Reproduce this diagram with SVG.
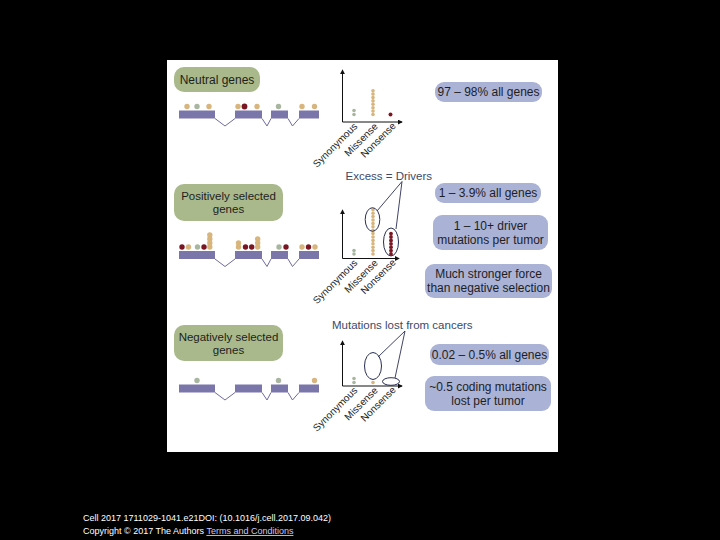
<svg xmlns="http://www.w3.org/2000/svg" width="720" height="540" viewBox="0 0 720 540">
<style>
text{font-family:"Liberation Sans",Arial,sans-serif;}
.gp{fill:#a9b98b;}
.lp{fill:#aab2d6;}
.ptc{font-size:12px;fill:#1e1e1e;text-anchor:middle;}
.ptg{font-size:11.5px;fill:#1e1e1e;text-anchor:middle;}
.ex{fill:#7b76a9;}
.in{fill:none;stroke:#6f6a9f;stroke-width:1;}
.t{fill:#d7b57c;}
.g{fill:#a9b69f;}
.r{fill:#7a1622;}
.ax{fill:none;stroke:#111;stroke-width:1;}
.lab{font-size:10px;fill:#222;text-anchor:end;}
.hd{font-size:11.5px;fill:#3b4a6b;}
.el{fill:none;stroke:#2a2f55;stroke-width:1;}
.cn{fill:none;stroke:#2a2f55;stroke-width:0.9;}
.ft{font-size:9px;fill:#ffffff;}
</style>
<defs>
<marker id="ah" viewBox="0 0 6 6" refX="5" refY="3" markerWidth="5" markerHeight="5" orient="auto">
<path d="M0,0 L6,3 L0,6 z" fill="#111"/>
</marker>
</defs>
<rect x="0" y="0" width="720" height="540" fill="#000"/>
<rect x="167" y="60" width="391" height="392" fill="#fff"/>

<!-- Neutral section -->
<g id="neutral-label">
<rect class="gp" x="174" y="67" width="86" height="25" rx="10"/>
<text class="ptc" x="217" y="84">Neutral genes</text>
</g>
<g id="neutral-gene">
<rect class="ex" x="179" y="110.5" width="36" height="8"/>
<rect class="ex" x="235" y="110.5" width="27" height="8"/>
<rect class="ex" x="271" y="110.5" width="17" height="8"/>
<rect class="ex" x="299" y="110.5" width="20" height="8"/>
<polyline class="in" points="215,118.5 225,126 235,118.5"/>
<polyline class="in" points="262,118.5 267,126 271,118.5"/>
<polyline class="in" points="288,118.5 292.5,126 299,118.5"/>
<circle class="t" cx="187" cy="106.5" r="2.7"/>
<circle class="g" cx="197" cy="106.5" r="2.7"/>
<circle class="t" cx="209" cy="106.5" r="2.7"/>
<circle class="t" cx="238" cy="106.5" r="2.7"/>
<circle class="r" cx="244.5" cy="106.5" r="2.9"/>
<circle class="t" cx="257" cy="106.5" r="2.7"/>
<circle class="g" cx="278.5" cy="106.5" r="2.7"/>
<circle class="t" cx="302" cy="106.5" r="2.7"/>
<circle class="t" cx="314.5" cy="106.5" r="2.7"/>
</g>
<g id="neutral-chart">
<line class="ax" x1="342.5" y1="122" x2="342.5" y2="70" marker-end="url(#ah)"/>
<line class="ax" x1="342.5" y1="122" x2="402" y2="122" marker-end="url(#ah)"/>
<circle class="g" cx="354" cy="110.5" r="1.8"/>
<circle class="g" cx="354" cy="114.5" r="1.8"/>
<g class="t">
<circle cx="373" cy="114.5" r="1.8"/><circle cx="373" cy="111.1" r="1.8"/><circle cx="373" cy="107.7" r="1.8"/><circle cx="373" cy="104.3" r="1.8"/>
<circle cx="373" cy="100.9" r="1.8"/><circle cx="373" cy="97.5" r="1.8"/><circle cx="373" cy="94.1" r="1.8"/><circle cx="373" cy="90.7" r="1.8"/>
</g>
<circle class="r" cx="390.5" cy="114.5" r="2"/>
<text class="lab" transform="translate(358,127) rotate(-45)">Synonymous</text>
<text class="lab" transform="translate(378.5,127) rotate(-45)">Missense</text>
<text class="lab" transform="translate(396.5,126.5) rotate(-45)">Nonsense</text>
</g>
<g id="neutral-pct">
<rect class="lp" x="435" y="82" width="107" height="20" rx="9"/>
<text class="ptc" x="488.5" y="96">97 – 98% all genes</text>
</g>

<!-- Positive section -->
<g id="positive-label">
<rect class="gp" x="174" y="184" width="109" height="37" rx="10"/>
<text class="ptg" x="228.5" y="199.5">Positively selected</text>
<text class="ptg" x="228.5" y="212.5">genes</text>
</g>
<g id="positive-gene">
<rect class="ex" x="179" y="251" width="36" height="8"/>
<rect class="ex" x="235" y="251" width="27" height="8"/>
<rect class="ex" x="271" y="251" width="17" height="8"/>
<rect class="ex" x="299" y="251" width="20" height="8"/>
<polyline class="in" points="215,259 225,266.5 235,259"/>
<polyline class="in" points="262,259 267,266.5 271,259"/>
<polyline class="in" points="288,259 292.5,266.5 299,259"/>
<circle class="r" cx="182" cy="247" r="2.7"/>
<circle class="t" cx="188.5" cy="247" r="2.7"/>
<circle class="g" cx="197.5" cy="247" r="2.7"/>
<circle class="r" cx="204" cy="247" r="2.7"/>
<circle class="t" cx="209.8" cy="247" r="2.7"/>
<circle class="t" cx="209.8" cy="243" r="2.7"/>
<circle class="t" cx="209.8" cy="239" r="2.7"/>
<circle class="t" cx="209.8" cy="235" r="2.7"/>
<circle class="t" cx="238.5" cy="247" r="2.7"/>
<circle class="t" cx="238.5" cy="243" r="2.7"/>
<circle class="r" cx="245.5" cy="247" r="2.7"/>
<circle class="r" cx="251.7" cy="247" r="2.7"/>
<circle class="t" cx="257.7" cy="247" r="2.7"/>
<circle class="t" cx="257.7" cy="243" r="2.7"/>
<circle class="t" cx="257.7" cy="239" r="2.7"/>
<circle class="g" cx="279" cy="247" r="2.7"/>
<circle class="r" cx="286" cy="247" r="2.7"/>
<circle class="t" cx="302" cy="247" r="2.7"/>
<circle class="r" cx="308.5" cy="247" r="2.7"/>
<circle class="t" cx="315" cy="247" r="2.7"/>
</g>
<g id="positive-chart">
<line class="ax" x1="342.5" y1="258.5" x2="342.5" y2="210" marker-end="url(#ah)"/>
<line class="ax" x1="342.5" y1="258.5" x2="399" y2="258.5" marker-end="url(#ah)"/>
<circle class="g" cx="354" cy="250.5" r="1.8"/>
<circle class="g" cx="354" cy="254" r="1.8"/>
<g class="t">
<circle cx="373" cy="254" r="1.8"/><circle cx="373" cy="250.6" r="1.8"/><circle cx="373" cy="247.2" r="1.8"/><circle cx="373" cy="243.8" r="1.8"/>
<circle cx="373" cy="240.4" r="1.8"/><circle cx="373" cy="237" r="1.8"/><circle cx="373" cy="233.6" r="1.8"/><circle cx="373" cy="230.2" r="1.8"/>
<circle cx="373" cy="226.8" r="1.8"/><circle cx="373" cy="223.4" r="1.8"/><circle cx="373" cy="220" r="1.8"/><circle cx="373" cy="216.6" r="1.8"/>
<circle cx="373" cy="213.2" r="1.8"/><circle cx="373" cy="209.8" r="1.8"/>
</g>
<g class="r">
<circle cx="391" cy="254" r="1.9"/><circle cx="391" cy="250.6" r="1.9"/><circle cx="391" cy="247.2" r="1.9"/><circle cx="391" cy="243.8" r="1.9"/>
<circle cx="391" cy="240.4" r="1.9"/><circle cx="391" cy="237" r="1.9"/><circle cx="391" cy="233.6" r="1.9"/>
</g>
<ellipse class="el" cx="372.5" cy="219.5" rx="7.3" ry="11.8"/>
<ellipse class="el" cx="391" cy="242" rx="7.5" ry="14"/>
<text class="lab" transform="translate(358,263.5) rotate(-45)">Synonymous</text>
<text class="lab" transform="translate(378.5,263.5) rotate(-45)">Missense</text>
<text class="lab" transform="translate(396.5,263) rotate(-45)">Nonsense</text>
<text class="hd" x="345.5" y="180">Excess = Drivers</text>
</g>
<g id="positive-pct">
<rect class="lp" x="435" y="183" width="106" height="20" rx="9"/>
<text class="ptc" x="488" y="197">1 – 3.9% all genes</text>
</g>
<g id="positive-drivers">
<rect class="lp" x="433" y="215" width="115" height="35" rx="9"/>
<text class="ptc" x="490.5" y="229.5">1 – 10+ driver</text>
<text class="ptc" x="490.5" y="244">mutations per tumor</text>
</g>
<g id="positive-force">
<rect class="lp" x="425" y="264" width="127" height="34" rx="9"/>
<text class="ptc" x="488.5" y="277.5">Much stronger force</text>
<text class="ptc" x="488.5" y="292">than negative selection</text>
</g>

<!-- Negative section -->
<g id="negative-label">
<rect class="gp" x="174" y="325" width="109" height="36" rx="10"/>
<text class="ptg" x="228.5" y="340.5">Negatively selected</text>
<text class="ptg" x="228.5" y="353.5">genes</text>
</g>
<g id="negative-gene">
<rect class="ex" x="179" y="384.5" width="36" height="8"/>
<rect class="ex" x="235" y="384.5" width="27" height="8"/>
<rect class="ex" x="271" y="384.5" width="17" height="8"/>
<rect class="ex" x="299" y="384.5" width="20" height="8"/>
<polyline class="in" points="215,392.5 225,400 235,392.5"/>
<polyline class="in" points="262,392.5 267,400 271,392.5"/>
<polyline class="in" points="288,392.5 292.5,400 299,392.5"/>
<circle class="g" cx="197" cy="380.5" r="2.7"/>
<circle class="g" cx="278.5" cy="380.5" r="2.7"/>
<circle class="t" cx="314.5" cy="380.5" r="2.7"/>
</g>
<g id="negative-chart">
<line class="ax" x1="342.5" y1="386" x2="342.5" y2="341" marker-end="url(#ah)"/>
<line class="ax" x1="342.5" y1="386" x2="402" y2="386" marker-end="url(#ah)"/>
<circle class="g" cx="354" cy="378.5" r="1.8"/>
<circle class="g" cx="354" cy="382.5" r="1.8"/>
<circle class="t" cx="373" cy="382.5" r="1.8"/>
<ellipse class="el" cx="373" cy="366" rx="8.5" ry="13.5"/>
<ellipse class="el" cx="391" cy="381.5" rx="8.5" ry="3.8"/>
<text class="lab" transform="translate(358,391) rotate(-45)">Synonymous</text>
<text class="lab" transform="translate(378.5,391) rotate(-45)">Missense</text>
<text class="lab" transform="translate(396.5,390.5) rotate(-45)">Nonsense</text>
<text class="hd" x="332" y="329">Mutations lost from cancers</text>
</g>
<g id="negative-pct">
<rect class="lp" x="430" y="344" width="119" height="21" rx="9"/>
<text class="ptc" x="489.5" y="358.5">0.02 – 0.5% all genes</text>
</g>
<g id="negative-lost">
<rect class="lp" x="425" y="376" width="126" height="35" rx="9"/>
<text class="ptc" x="488" y="391">~0.5 coding mutations</text>
<text class="ptc" x="488" y="405">lost per tumor</text>
</g>

<g id="connectors">
<polyline class="cn" points="377,211 402,181.5 396,229"/>
<polyline class="cn" points="378,357 405,331 395,378"/>
</g>

<g id="footer">
<text class="ft" x="83" y="521">Cell 2017 1711029-1041.e21DOI: (10.1016/j.cell.2017.09.042)</text>
<text class="ft" x="83" y="534">Copyright © 2017 The Authors <tspan fill="#c9c6f2" text-decoration="underline">Terms and Conditions</tspan></text>
</g>
</svg>
